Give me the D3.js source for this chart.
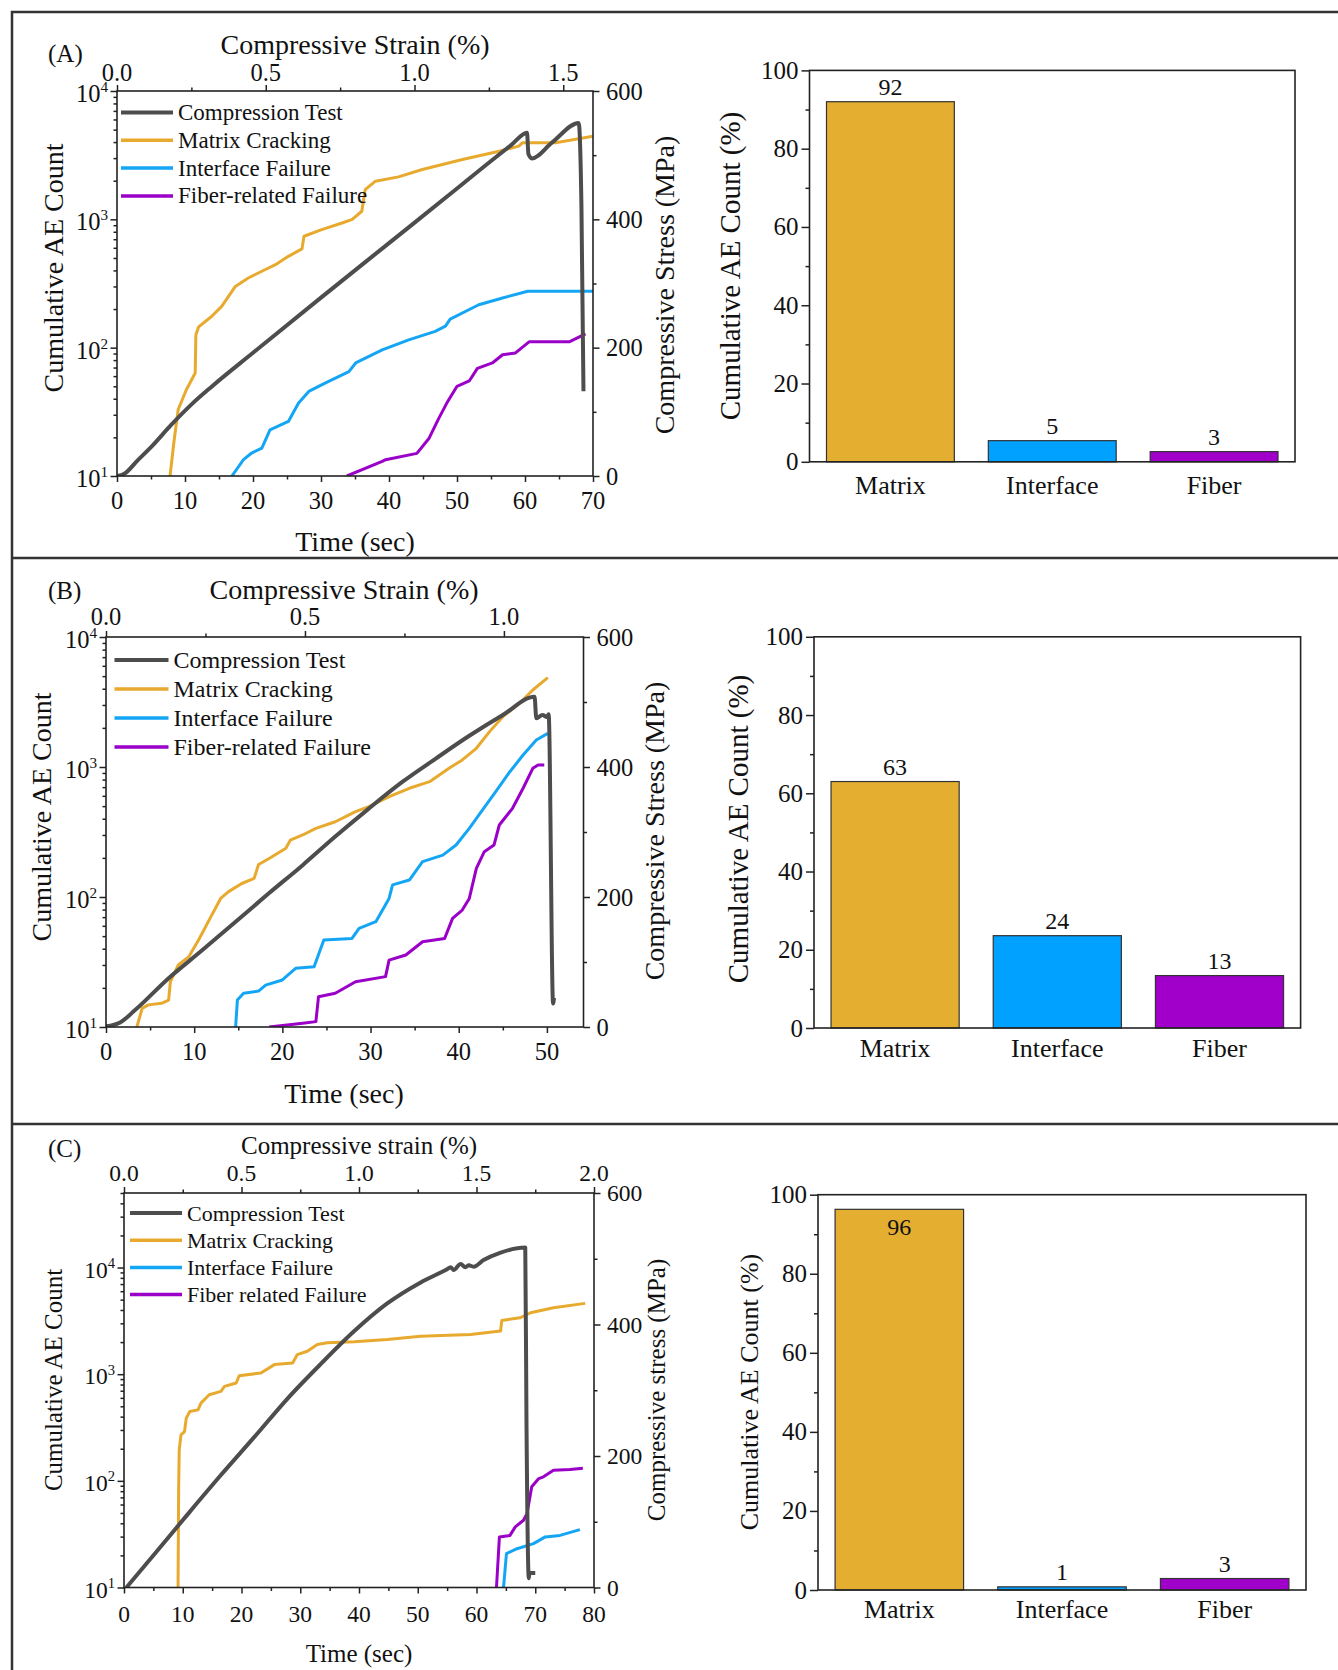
<!DOCTYPE html>
<html>
<head>
<meta charset="utf-8">
<script src="https://cdn.jsdelivr.net/npm/d3@7"></script>
<style>
body { margin: 0; background: #fff; }
text { font-family: "Liberation Serif", "Times New Roman", serif; fill: #111; }
</style>
</head>
<body>
<div id="chart"></div>
<script>
// ---- data ----
var seriesNames = ["Compression Test", "Matrix Cracking", "Interface Failure", "Fiber-related Failure"]
var seriesNamesC = ["Compression Test", "Matrix Cracking", "Interface Failure", "Fiber related Failure"]
var categories = ["Matrix", "Interface", "Fiber"]

// panel A : [time (s), value]
var compA = [[0,0],[1,3],[3,24],[5,45],[8,80],[11,112],[14,140],[20,192],[30,278],[40,363],[50,448],[55,491],[58,516],[60.3,535],[60.5,502],[61,495],[64,520],[67.9,550],[68.3,420],[68.6,132]]
var matrixA = [[7.8,10],[8.4,19],[9,33],[10.2,47],[11.5,63.5],[11.6,126],[12,145],[13.9,175],[15.4,210],[17.4,300],[19.3,349],[21.3,394],[23.3,443],[25.2,515],[27.2,588],[27.5,738],[30.1,832],[33.1,936],[34.6,1000],[36,1156],[36.5,1706],[38,1982],[41.4,2142],[44.9,2445],[50.8,2924],[56.2,3396],[59.1,3718],[59.6,3947],[64.5,3947],[70,4447]]
var interfaceA = [[16.9,10],[18.6,13.4],[19.8,15.1],[21.3,16.5],[22.5,22.9],[25.2,26.6],[26.7,37],[28.2,45.6],[30.6,53],[34.1,65],[35.1,76],[39,96],[42.9,115],[46.8,134],[48.3,147],[49,167],[53.2,216],[56.7,244],[60.4,275],[70,275]]
var fiberA = [[33.8,10],[39,13],[39.5,13.4],[44.1,15],[45.9,19.7],[47.3,28],[48.5,37],[50,50],[51.8,55],[53,69],[55.2,76],[56.7,88],[58.6,91],[60.6,111],[66.5,111],[68.9,128]]
var barA = [92, 5.4, 2.6]

// panel B
var compB = [[0,1],[1.6,7],[3.3,26],[7.1,75],[10.9,118],[14.7,162],[18.5,206],[22.3,249],[26,293],[29.8,336],[33.6,377],[37.4,413],[41.2,448],[45,480],[48.6,508],[48.8,475],[49.5,480],[50,477],[50.2,481],[50.7,36],[50.8,45]]
var matrixB = [[3.5,10],[4.1,13.9],[4.8,14.8],[6.3,15.2],[7.1,16.1],[7.3,22.3],[8.2,30],[9.4,34.8],[10.5,46.7],[11.6,64.6],[13,97.5],[13.9,110],[15.4,127],[16.8,139],[17.3,178],[18.5,198],[20.4,237],[20.9,274],[22.3,300],[23.8,337],[26,379],[28.3,453],[29.8,495],[32.1,592],[34.4,686],[36.7,771],[38.9,977],[40.4,1133],[42,1393],[43.5,1871],[45,2438],[46.9,3090],[48.4,3913],[50.1,4865]]
var interfaceB = [[14.7,10],[14.9,16.1],[15.6,18.2],[17.3,18.9],[18.1,21],[20,23],[21.5,28.3],[23.6,29.1],[24.7,46.7],[27.9,48],[28.7,57.4],[30.6,64.6],[32.1,97.5],[32.5,124],[34.4,135],[35.9,187],[38.2,210],[39.7,251],[41.2,337],[42.7,467],[44.2,646],[45.8,920],[47.3,1236],[48.8,1614],[50.1,1815]]
var fiberB = [[18.5,10],[22.3,10.7],[23.8,11],[24.1,17.1],[26,18.2],[28.3,22.3],[31.7,24.4],[32.1,32.7],[34,35.8],[35.9,45.3],[38.4,48],[39.3,68.5],[40.4,79.4],[41.2,97.5],[42,166],[42.9,223],[44,251],[44.6,358],[46.1,481],[47.3,686],[48.4,977],[49,1036],[49.7,1036]]
var barB = [63, 23.6, 13.4]

// panel C
var compC = [[0.4,0],[5.2,51],[10.9,112],[16.5,171],[22.2,229],[27.8,287],[33.5,340],[39.2,390],[44.8,432],[50.5,464],[55,484],[55.6,487],[56.1,483],[57.3,492],[58.1,487],[58.7,490],[59.5,488],[61.2,498],[64,509],[68.3,517],[68.5,260],[68.9,14],[69,22],[70,22]]
var matrixC = [[9.2,10],[9.3,82],[9.4,195],[9.7,270],[10.3,290],[10.6,387],[11.2,447],[12.6,463],[13.1,536],[14.5,642],[16.5,690],[17.1,769],[19.1,826],[19.6,968],[23.3,1026],[25.6,1230],[28.7,1275],[29.5,1527],[31.2,1641],[32.9,1897],[34.6,1968],[39.2,2011],[44.8,2114],[50.5,2272],[59,2355],[64.1,2535],[64.3,3194],[67.4,3381],[69.2,3767],[73.1,4200],[78.5,4613]]
var interfaceC = [[64.6,10],[65.1,20.8],[66.9,23.1],[69.7,25.8],[71.7,29.8],[74.2,30.8],[77.6,34.9]]
var fiberC = [[63.4,10],[63.9,29.8],[65.7,30.8],[66.6,37],[68,42.7],[68.6,49.3],[69.4,88],[70.6,105],[71.4,109],[73.1,126],[75.9,128],[78.1,131]]
var barC = [96.3, 0.8, 2.9]

// tick values
var stressTicks = [0, 200, 400, 600]
var stressMinor = [100, 300, 500]
var logTicks = [10, 100, 1000, 10000]
var barTicks = [0, 20, 40, 60, 80, 100]
var barMinor = [10, 30, 50, 70, 90]

var lineColors = ["#4d4d4d", "#e8aa2e", "#14a6f4", "#9a00c8"]
var barColors = ["#e4ae31", "#00a1ff", "#a000c9"]

var svg = d3.select('#chart').append('svg')
    .attr('width', 1338)
    .attr('height', 1670)

// outer frame and separators
svg.append('path')
    .attr('d', 'M12,1670V12H1338M12,558H1338M12,1124H1338')
    .attr('fill', 'none')
    .attr('stroke', '#333')
    .attr('stroke-width', 2.5)

function logMinor(domain) {
    var out = []
    for (var e = Math.floor(Math.log10(domain[0])); e <= Math.ceil(Math.log10(domain[1])); e++) {
        for (var k = 2; k <= 9; k++) {
            var v = k * Math.pow(10, e)
            if (v > domain[0] && v <= domain[1]) out.push(v)
        }
    }
    return out
}

function range(a, b, s) { return d3.range(a, b + s / 2, s) }

function tickAxis(g, axis) {
    g.call(axis)
    g.select('.domain').remove()
    g.selectAll('line').attr('stroke', '#222').attr('stroke-width', 1.5)
}

function linePanel(p) {
    var x = d3.scaleLinear().domain(p.time).range([p.x0, p.x1])
    var xs = d3.scaleLinear().domain(p.strain).range([p.x0, p.x1])
    var yl = d3.scaleLog().domain(p.count).range([p.y1, p.y0])
    var yr = d3.scaleLinear().domain([0, 600]).range([p.y1, p.y0])
    var g = svg.append('g')

    g.append('clipPath').attr('id', 'clip' + p.id)
        .append('rect')
        .attr('x', p.x0).attr('y', p.y0)
        .attr('width', p.x1 - p.x0).attr('height', p.y1 - p.y0)

    var lineL = d3.line().x(function(d){return x(d[0])}).y(function(d){return yl(d[1])})
    var lineR = d3.line().x(function(d){return x(d[0])}).y(function(d){return yr(d[1])})
        .curve(d3.curveMonotoneX)

    var lines = g.append('g').attr('clip-path', 'url(#clip' + p.id + ')')
    p.counts.forEach(function(s, i) {
        lines.append('path').datum(s)
            .attr('d', lineL)
            .attr('fill', 'none')
            .attr('stroke', lineColors[i + 1])
            .attr('stroke-width', 3)
            .attr('stroke-linejoin', 'round')
    })
    lines.append('path').datum(p.comp)
        .attr('d', lineR)
        .attr('fill', 'none')
        .attr('stroke', lineColors[0])
        .attr('stroke-width', 4)
        .attr('stroke-linejoin', 'round')

    // box
    g.append('rect')
        .attr('x', p.x0).attr('y', p.y0)
        .attr('width', p.x1 - p.x0).attr('height', p.y1 - p.y0)
        .attr('fill', 'none').attr('stroke', '#222').attr('stroke-width', 1.6)

    // ticks
    tickAxis(g.append('g').attr('transform', 'translate(0,' + p.y1 + ')'),
        d3.axisBottom(x).tickValues(p.timeTicks).tickSize(6).tickFormat(''))
    tickAxis(g.append('g').attr('transform', 'translate(0,' + p.y1 + ')'),
        d3.axisBottom(x).tickValues(p.timeMinor).tickSize(3.5).tickFormat(''))
    tickAxis(g.append('g').attr('transform', 'translate(0,' + p.y0 + ')'),
        d3.axisTop(xs).tickValues(p.strainTicks).tickSize(6).tickFormat(''))
    tickAxis(g.append('g').attr('transform', 'translate(0,' + p.y0 + ')'),
        d3.axisTop(xs).tickValues(p.strainMinor).tickSize(3.5).tickFormat(''))
    tickAxis(g.append('g').attr('transform', 'translate(' + p.x0 + ',0)'),
        d3.axisLeft(yl).tickValues(logTicks).tickSize(6.5).tickFormat(''))
    tickAxis(g.append('g').attr('transform', 'translate(' + p.x0 + ',0)'),
        d3.axisLeft(yl).tickValues(logMinor(p.count)).tickSize(3.5).tickFormat(''))
    tickAxis(g.append('g').attr('transform', 'translate(' + p.x1 + ',0)'),
        d3.axisRight(yr).tickValues(stressTicks).tickSize(6.5).tickFormat(''))
    tickAxis(g.append('g').attr('transform', 'translate(' + p.x1 + ',0)'),
        d3.axisRight(yr).tickValues(stressMinor).tickSize(3.5).tickFormat(''))

    // tick labels
    g.selectAll('.tb').data(p.timeTicks).enter().append('text')
        .attr('x', function(d){return x(d)}).attr('y', p.y1 + p.bottomGap)
        .attr('text-anchor', 'middle').attr('dominant-baseline', 'central')
        .attr('font-size', p.tickFont).text(function(d){return d})
    g.selectAll('.tt').data(p.strainTicks).enter().append('text')
        .attr('x', function(d){return xs(d)}).attr('y', p.y0 - p.topGap)
        .attr('text-anchor', 'middle').attr('dominant-baseline', 'central')
        .attr('font-size', p.tickFont).text(function(d){return d3.format('.1f')(d)})
    g.selectAll('.tr').data(stressTicks).enter().append('text')
        .attr('x', p.x1 + 13).attr('y', function(d){return yr(d)})
        .attr('dominant-baseline', 'central')
        .attr('font-size', p.tickFont).text(function(d){return d})
    var tl = g.selectAll('.tl').data(logTicks).enter().append('text')
        .attr('x', p.x0 - 9).attr('y', function(d){return yl(d) + 2})
        .attr('text-anchor', 'end').attr('dominant-baseline', 'central')
        .attr('font-size', p.tickFont)
    tl.append('tspan').text('10')
    tl.append('tspan').attr('dy', '-0.45em').attr('font-size', '0.62em')
        .text(function(d){return Math.round(Math.log10(d))})

    // titles
    g.append('text').attr('x', 48).attr('y', p.labelY)
        .attr('dominant-baseline', 'central').attr('font-size', 25).text(p.label)
    g.append('text').attr('x', p.titleX).attr('y', p.topTitleY)
        .attr('text-anchor', 'middle').attr('dominant-baseline', 'central')
        .attr('font-size', p.titleFont).text(p.strainTitle)
    g.append('text').attr('x', p.titleX).attr('y', p.bottomTitleY)
        .attr('text-anchor', 'middle').attr('dominant-baseline', 'central')
        .attr('font-size', p.titleFont).text('Time (sec)')
    g.append('text').attr('transform', 'translate(' + p.leftTitle[0] + ',' + p.leftTitle[1] + ') rotate(-90)')
        .attr('text-anchor', 'middle').attr('dominant-baseline', 'central')
        .attr('font-size', p.titleFont).text('Cumulative AE Count')
    g.append('text').attr('transform', 'translate(' + p.rightTitle[0] + ',' + p.rightTitle[1] + ') rotate(-90)')
        .attr('text-anchor', 'middle').attr('dominant-baseline', 'central')
        .attr('font-size', p.titleFont).text(p.stressTitle)

    // legend
    var lg = g.selectAll('.legend').data(p.names).enter().append('g')
        .attr('transform', function(d, i){return 'translate(' + p.legend[0] + ',' + (p.legend[1] + i * p.legend[2]) + ')'})
    lg.append('line').attr('x1', 0).attr('x2', p.legend[3])
        .attr('stroke', function(d, i){return lineColors[i]})
        .attr('stroke-width', function(d, i){return i === 0 ? 4 : 3.5})
    lg.append('text').attr('x', p.legend[3] + 5)
        .attr('dominant-baseline', 'central')
        .attr('font-size', p.legendFont).text(function(d){return d})
}

function barPanel(p) {
    var x = d3.scaleBand().domain(categories).range([p.x0, p.x1]).paddingInner(0.21).paddingOuter(0.105)
    var y = d3.scaleLinear().domain([0, 100]).range([p.y1, p.y0])
    var g = svg.append('g')

    g.selectAll('.bar').data(p.values).enter().append('rect')
        .attr('x', function(d, i){return x(categories[i])})
        .attr('y', function(d){return y(d)})
        .attr('width', x.bandwidth())
        .attr('height', function(d){return p.y1 - y(d)})
        .attr('fill', function(d, i){return barColors[i]})
        .attr('stroke', '#333').attr('stroke-width', 1.2)

    g.append('rect')
        .attr('x', p.x0).attr('y', p.y0)
        .attr('width', p.x1 - p.x0).attr('height', p.y1 - p.y0)
        .attr('fill', 'none').attr('stroke', '#222').attr('stroke-width', 1.6)

    tickAxis(g.append('g').attr('transform', 'translate(' + p.x0 + ',0)'),
        d3.axisLeft(y).tickValues(barTicks).tickSize(8).tickFormat(''))
    tickAxis(g.append('g').attr('transform', 'translate(' + p.x0 + ',0)'),
        d3.axisLeft(y).tickValues(barMinor).tickSize(4).tickFormat(''))

    g.selectAll('.yl').data(barTicks).enter().append('text')
        .attr('x', p.x0 - 11).attr('y', function(d){return y(d)})
        .attr('text-anchor', 'end').attr('dominant-baseline', 'central')
        .attr('font-size', 25).text(function(d){return d})

    g.selectAll('.val').data(p.values).enter().append('text')
        .attr('x', function(d, i){return x(categories[i]) + x.bandwidth() / 2})
        .attr('y', function(d){return d > 93 ? y(d) + 18 : y(d) - 15})
        .attr('text-anchor', 'middle').attr('dominant-baseline', 'central')
        .attr('font-size', 24).text(function(d){return Math.round(d)})

    g.selectAll('.cat').data(categories).enter().append('text')
        .attr('x', function(d){return x(d) + x.bandwidth() / 2})
        .attr('y', p.catY)
        .attr('text-anchor', 'middle').attr('dominant-baseline', 'central')
        .attr('font-size', 26).text(function(d){return d})

    g.append('text').attr('transform', 'translate(' + p.title[0] + ',' + p.title[1] + ') rotate(-90)')
        .attr('text-anchor', 'middle').attr('dominant-baseline', 'central')
        .attr('font-size', p.titleFont).text('Cumulative AE Count (%)')
}

linePanel({
    id: 'A', label: '(A)', labelY: 53,
    x0: 117, x1: 593, y0: 91, y1: 476,
    time: [0, 70], strain: [0, 1.6], count: [10, 10000],
    timeTicks: range(0, 70, 10), timeMinor: range(5, 65, 10),
    strainTicks: [0, 0.5, 1.0, 1.5], strainMinor: [0.25, 0.75, 1.25],
    comp: compA, counts: [matrixA, interfaceA, fiberA],
    tickFont: 24.5, titleFont: 28, bottomGap: 24, topGap: 19,
    titleX: 355, topTitleY: 44, bottomTitleY: 541,
    leftTitle: [53, 268], rightTitle: [664, 285],
    strainTitle: 'Compressive Strain (%)', stressTitle: 'Compressive Stress (MPa)',
    names: seriesNames, legend: [121, 112.5, 27.8, 52], legendFont: 23
})
barPanel({ x0: 809.5, x1: 1295, y0: 70.4, y1: 461.8, values: barA, catY: 485, title: [730, 266], titleFont: 29 })

linePanel({
    id: 'B', label: '(B)', labelY: 590,
    x0: 106, x1: 583.5, y0: 637, y1: 1027,
    time: [0, 54.15], strain: [0, 1.2], count: [10, 10000],
    timeTicks: range(0, 50, 10), timeMinor: range(5, 45, 10),
    strainTicks: [0, 0.5, 1.0], strainMinor: [0.25, 0.75],
    comp: compB, counts: [matrixB, interfaceB, fiberB],
    tickFont: 24.5, titleFont: 28, bottomGap: 24, topGap: 21,
    titleX: 344, topTitleY: 589, bottomTitleY: 1093,
    leftTitle: [41, 817], rightTitle: [654, 831],
    strainTitle: 'Compressive Strain (%)', stressTitle: 'Compressive Stress (MPa)',
    names: seriesNames, legend: [114.5, 660, 29, 54], legendFont: 24
})
barPanel({ x0: 814, x1: 1300.6, y0: 636.8, y1: 1028, values: barB, catY: 1048, title: [738, 829], titleFont: 29 })

linePanel({
    id: 'C', label: '(C)', labelY: 1148,
    x0: 124, x1: 594, y0: 1193, y1: 1587.5,
    time: [0, 80], strain: [0, 2.0], count: [10, 50000],
    timeTicks: range(0, 80, 10), timeMinor: range(5, 75, 10),
    strainTicks: [0, 0.5, 1.0, 1.5, 2.0], strainMinor: [0.25, 0.75, 1.25, 1.75],
    comp: compC, counts: [matrixC, interfaceC, fiberC],
    tickFont: 23.5, titleFont: 25, bottomGap: 26, topGap: 20,
    titleX: 359, topTitleY: 1145, bottomTitleY: 1653,
    leftTitle: [53, 1380], rightTitle: [656, 1390],
    strainTitle: 'Compressive strain (%)', stressTitle: 'Compressive stress (MPa)',
    names: seriesNamesC, legend: [130, 1213, 27.2, 52], legendFont: 22
})
barPanel({ x0: 818, x1: 1306, y0: 1194.7, y1: 1590, values: barC, catY: 1609, title: [749, 1392], titleFont: 26 })
</script>
</body>
</html>
